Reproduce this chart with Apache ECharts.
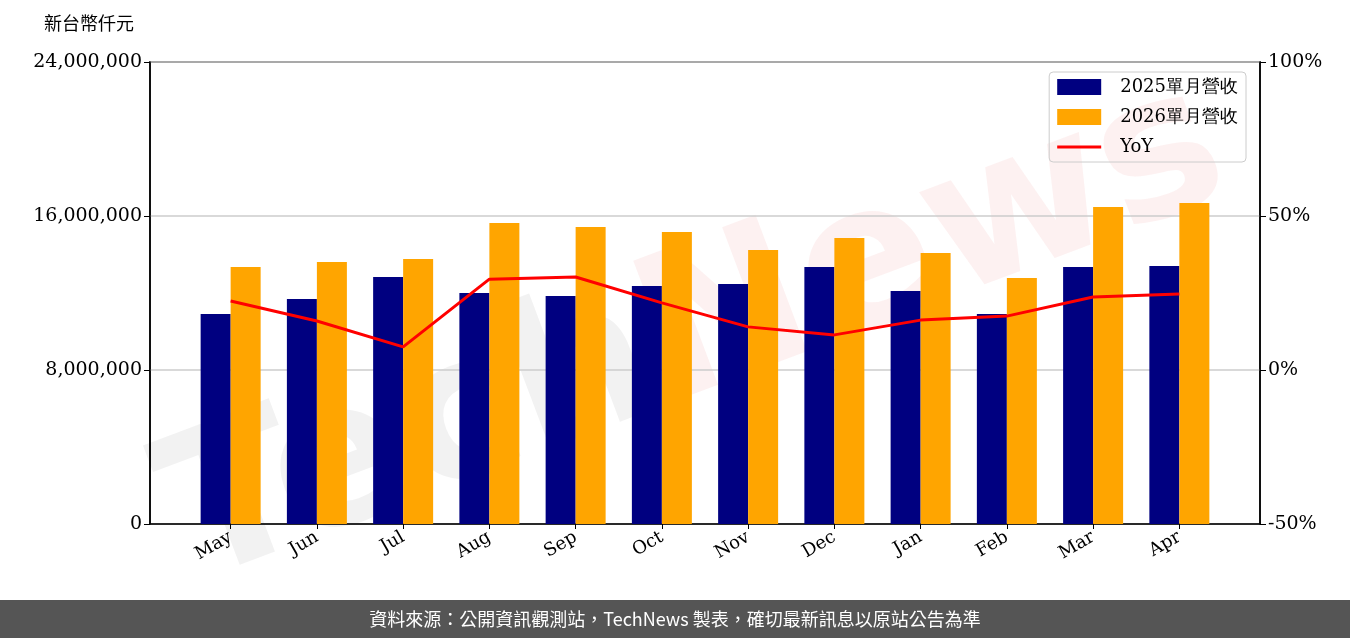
<!DOCTYPE html><html><head><meta charset="utf-8">
<script src="https://cdn.jsdelivr.net/npm/echarts@6/dist/echarts.min.js"></script>
<style>body{margin:0}#c{width:1350px;height:638px}</style></head><body><div id="c"></div>
<script>
const categories=['May','Jun','Jul','Aug','Sep','Oct','Nov','Dec','Jan','Feb','Mar','Apr'];
const rev2025=[10910000,11690000,12830000,12000000,11840000,12360000,12470000,13350000,12100000,10910000,13350000,13400000];
const rev2026=[13350000,13610000,13770000,15640000,15430000,15170000,14230000,14860000,14080000,12780000,16470000,16680000];
const yoy=[22.4,15.9,7.5,29.5,30.2,21.8,14.0,11.4,16.2,17.5,23.7,24.7];
const serif='"DejaVu Serif", serif';
const idx=categories.map((c,i)=>i);
const chart=echarts.init(document.getElementById('c'));
chart.setOption({
  animation:false,
  grid:{left:150,right:90,top:62,bottom:114,show:true,borderColor:'#000',borderWidth:1.5},
  graphic:[
    {type:'text',left:44,top:14,style:{text:'新台幣仟元',font:'18px "Noto Sans CJK TC"',fill:'#000'}},
    {type:'text',x:140,y:440,rotation:0.36,z:-10,style:{text:'{a|Tech}{b|News}',rich:{a:{font:'bold 200px "DejaVu Sans"',fill:'rgba(190,190,190,0.2)'},b:{font:'bold 200px "DejaVu Sans"',fill:'rgba(240,150,150,0.13)'}}}},
    {type:'rect',shape:{x:0,y:600,width:1350,height:38},style:{fill:'#555'}},
    {type:'text',x:675,y:619,style:{text:'資料來源：公開資訊觀測站，TechNews 製表，確切最新訊息以原站公告為準',font:'18px "Noto Sans CJK TC"',fill:'#fff',align:'center',verticalAlign:'middle'}}
  ],
  legend:{right:104,top:72,orient:'vertical',itemWidth:44,itemHeight:16,itemGap:12,borderColor:'#ccc',borderWidth:1,borderRadius:4,padding:[6,8,6,8],
    textStyle:{fontFamily:serif,fontSize:18,color:'#000',padding:[0,0,0,14]},
    data:[{name:'2025單月營收',icon:'rect'},{name:'2026單月營收',icon:'rect'},{name:'YoY',icon:'path://M0,7h44v3h-44z'}]},
  xAxis:{type:'value',min:-0.935,max:11.935,splitLine:{show:false},axisLine:{lineStyle:{color:'#000',width:1.5}},
    axisTick:{show:true,customValues:idx,lineStyle:{color:'#000'}},
    axisLabel:{customValues:idx,rotate:30,fontFamily:serif,fontSize:18,color:'#000',margin:12,formatter:v=>categories[Math.round(v)]}},
  yAxis:[{type:'value',min:0,max:24000000,interval:8000000,axisLine:{show:true,onZero:false,lineStyle:{color:'#000',width:1.5}},axisTick:{show:true,length:6,lineStyle:{color:'#000'}},
    splitLine:{lineStyle:{color:'#ccc',width:1.5}},axisLabel:{fontFamily:serif,fontSize:19,color:'#000',formatter:v=>v.toLocaleString('en-US')}},
   {type:'value',min:-50,max:100,interval:50,axisLine:{show:true,onZero:false,lineStyle:{color:'#000',width:1.5}},axisTick:{show:true,length:6,lineStyle:{color:'#000'}},
    splitLine:{show:false},axisLabel:{fontFamily:serif,fontSize:19,color:'#000',formatter:'{value}%'}}],
  series:[
    {name:'2025單月營收',type:'bar',data:rev2025.map((v,i)=>[i,v]),barWidth:30,barGap:'0%',itemStyle:{color:'#000080'}},
    {name:'2026單月營收',type:'bar',data:rev2026.map((v,i)=>[i,v]),barWidth:30,itemStyle:{color:'#FFA500'}},
    {name:'YoY',type:'line',yAxisIndex:1,data:yoy.map((v,i)=>[i,v]),symbol:'none',lineStyle:{color:'#ff0000',width:3},itemStyle:{color:'#ff0000'}}
  ]
});
</script></body></html>
